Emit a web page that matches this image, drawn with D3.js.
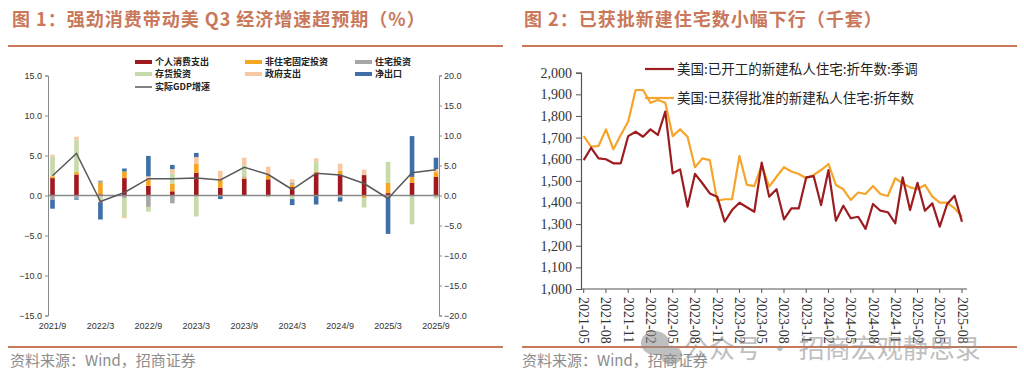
<!DOCTYPE html>
<html lang="zh">
<head>
<meta charset="UTF-8">
<title>美国GDP贡献与新建住宅</title>
<script src="https://cdnjs.cloudflare.com/ajax/libs/d3/7.8.5/d3.min.js"></script>
<style>
    body { margin: 0; background: #fff; }
    svg { display: block; font-family: "Noto Sans CJK SC", sans-serif; }
    .title { fill: #c9785a; font-size: 18px; font-weight: bold; letter-spacing: 1px; }
    .source { fill: #8c8c8c; font-size: 15px; font-family: "Noto Sans CJK SC", serif; }
    .ltick { font-family: Arial, "Liberation Sans", sans-serif; font-size: 9px; fill: #333; }
    .rtick { font-family: "Liberation Serif", serif; font-size: 14px; fill: #333; }
</style>
</head>
<body>
<svg width="1024" height="386"></svg>
<script>
// ---- 图1 数据：对实际GDP环比折年率的拉动（百分点）
const quarters = ["2021/9","2021/12","2022/3","2022/6","2022/9","2022/12","2023/3","2023/6","2023/9",
    "2023/12","2024/3","2024/6","2024/9","2024/12","2025/3","2025/6","2025/9"];
const seriesNames = ["个人消费支出","非住宅固定投资","住宅投资","存货投资","政府支出","净出口"];
const pce     = [2.9, 3.5, 0.2, 2.9, 1.6, 0.7, 3.8, 1.3, 2.8, 2.7, 1.4, 3.7, 3.5, 3.4, 0.4, 2.1, 3.1];
const nonres  = [0.3, 0.4, 1.9, 1.1, 1.0, 1.3, 1.5, 1.3, 0.2, 0.7, 0.4, 0.3, 0.6, -0.4, 1.7, 1.0, 0.8];
const resid   = [-0.7, -0.5, 0.4, -0.4, -1.9, -1.3, -0.2, -0.1, 0.2, 0.1, 0.3, -0.1, -0.2, 0.1, -0.1, -0.2, -0.2];
const invent  = [3.3, 5.4, -0.8, -3.2, -0.8, 1.6, -3.3, 0.0, 1.8, -0.3, -0.6, 1.6, -0.1, -1.6, 3.5, -4.6, -0.3];
const govt    = [0.3, 0.5, -0.3, -0.2, 0.6, 0.8, 1.1, 1.5, 1.3, 1.3, 0.6, 0.6, 1.2, 0.8, -0.1, 0.0, 0.5];
const netex   = [-1.5, -0.2, -2.9, 0.5, 3.4, 0.7, 0.7, -0.5, 0.0, 0.0, -1.0, -1.4, -0.7, 0.0, -6.2, 6.8, 1.9];
const gdp     = [3.3, 7.0, -1.0, 0.5, 2.8, 2.8, 2.9, 2.6, 4.7, 3.5, 1.0, 3.7, 3.4, 2.0, -0.5, 3.8, 4.3];
const leftTicks = [-15, -10, -5, 0, 5, 10, 15];
const rightTicks = [-20, -15, -10, -5, 0, 5, 10, 15, 20];

// ---- 图2 数据：千套，折年数
const months = ["2021-05","2021-06","2021-07","2021-08","2021-09","2021-10","2021-11","2021-12",
    "2022-01","2022-02","2022-03","2022-04","2022-05","2022-06","2022-07","2022-08","2022-09","2022-10","2022-11","2022-12",
    "2023-01","2023-02","2023-03","2023-04","2023-05","2023-06","2023-07","2023-08","2023-09","2023-10","2023-11","2023-12",
    "2024-01","2024-02","2024-03","2024-04","2024-05","2024-06","2024-07","2024-08","2024-09","2024-10","2024-11","2024-12",
    "2025-01","2025-02","2025-03","2025-04","2025-05","2025-06","2025-07","2025-08"];
const starts  = [1596, 1653, 1604, 1600, 1581, 1581, 1707, 1727, 1704, 1738, 1712, 1820, 1535, 1553, 1381, 1532,
    1489, 1442, 1427, 1311, 1365, 1399, 1378, 1357, 1584, 1427, 1461, 1322, 1373, 1373, 1516, 1522,
    1388, 1550, 1316, 1385, 1327, 1334, 1278, 1393, 1362, 1355, 1304, 1516, 1365, 1491, 1362, 1396,
    1288, 1393, 1431, 1311];
const permits = [1707, 1658, 1661, 1738, 1646, 1712, 1774, 1920, 1920, 1861, 1874, 1861, 1707, 1738, 1704, 1563,
    1604, 1596, 1408, 1415, 1415, 1615, 1481, 1476, 1573, 1473, 1519, 1563, 1543, 1532, 1512, 1527,
    1550, 1578, 1481, 1461, 1412, 1446, 1439, 1476, 1439, 1430, 1512, 1489, 1470, 1461, 1481, 1427,
    1399, 1399, 1373, 1334];
const housingNames = ["美国:已开工的新建私人住宅:折年数:季调", "美国:已获得批准的新建私人住宅:折年数"];

const svg = d3.select("svg");

// ================= 图1 =================
const colors = ["#a0191f", "#f5a623", "#a6a6a6", "#c7daa9", "#f7c8a2", "#3f6fa6"];
const rows = quarters.map((q, i) => ({
    q: q, "个人消费支出": pce[i], "非住宅固定投资": nonres[i], "住宅投资": resid[i],
    "存货投资": invent[i], "政府支出": govt[i], "净出口": netex[i]
}));

svg.append("text").attr("class", "title").attr("x", 12).attr("y", 26)
    .text("图 1：强劲消费带动美 Q3 经济增速超预期（%）");
svg.append("line").attr("x1", 8).attr("x2", 503).attr("y1", 46).attr("y2", 46)
    .attr("stroke", "#c9785a").attr("stroke-width", 2);

const x1 = d3.scalePoint().domain(quarters).range([52.5, 436]);
const yL = d3.scaleLinear().domain([-15, 15]).range([315.5, 75.5]);
const yR = d3.scaleLinear().domain([-20, 20]).range([315.5, 75.5]);

const g1 = svg.append("g");

// left axis
const axL = g1.append("g").attr("transform", "translate(48,0)")
    .call(d3.axisLeft(yL).tickValues(leftTicks).tickFormat(d3.format(".1f")).tickSize(3));
axL.select(".domain").attr("stroke", "#8a8a8a");
axL.selectAll(".tick line").attr("stroke", "#8a8a8a");
axL.selectAll("text").attr("class", "ltick").attr("x", -6);

// right axis
const axR = g1.append("g").attr("transform", "translate(439,0)")
    .call(d3.axisRight(yR).tickValues(rightTicks).tickFormat(d3.format(".1f")).tickSize(3));
axR.select(".domain").attr("stroke", "#8a8a8a");
axR.selectAll(".tick line").attr("stroke", "#8a8a8a");
axR.selectAll("text").attr("class", "ltick").attr("x", 5);

// stacked bars
const stack = d3.stack().keys(seriesNames).offset(d3.stackOffsetDiverging);
const layers = stack(rows);
g1.append("g").selectAll("g").data(layers).join("g")
    .attr("fill", (d, i) => colors[i])
    .selectAll("rect").data(d => d).join("rect")
    .attr("x", d => x1(d.data.q) - 2.3)
    .attr("width", 4.6)
    .attr("y", d => yR(Math.max(d[0], d[1])))
    .attr("height", d => Math.abs(yR(d[0]) - yR(d[1])));

// zero line
g1.append("line").attr("x1", 48).attr("x2", 439).attr("y1", yR(0)).attr("y2", yR(0))
    .attr("stroke", "#8a8a8a").attr("stroke-width", 1.5);

// GDP line
g1.append("path").datum(gdp)
    .attr("fill", "none").attr("stroke", "#595959").attr("stroke-width", 1.5)
    .attr("d", d3.line().x((d, i) => x1(quarters[i])).y(d => yR(d)));

// x labels (low position)
g1.append("g").selectAll("text").data(quarters.filter((q, i) => i % 2 === 0)).join("text")
    .attr("class", "ltick")
    .attr("x", d => x1(d)).attr("y", 329)
    .attr("text-anchor", "middle")
    .text(d => d);

// legend
const legItems = seriesNames.map((n, i) => ({ name: n, color: colors[i],
    x: [135, 245, 355][i % 3], y: [62, 74][Math.floor(i / 3)] }));
const leg1 = g1.append("g");
leg1.selectAll("rect").data(legItems).join("rect")
    .attr("x", d => d.x).attr("y", d => d.y - 2).attr("width", 17).attr("height", 4)
    .attr("fill", d => d.color);
leg1.selectAll("text").data(legItems).join("text")
    .attr("x", d => d.x + 20).attr("y", d => d.y).attr("dy", "0.35em")
    .attr("font-size", 9).attr("font-weight", "bold").attr("fill", "#222")
    .text(d => d.name);
leg1.append("line").attr("x1", 135).attr("x2", 152).attr("y1", 87).attr("y2", 87)
    .attr("stroke", "#595959").attr("stroke-width", 1.5);
leg1.append("text").attr("x", 155).attr("y", 87).attr("dy", "0.35em")
    .attr("font-size", 9).attr("font-weight", "bold").attr("fill", "#222").text("实际GDP增速");

svg.append("line").attr("x1", 8).attr("x2", 503).attr("y1", 347).attr("y2", 347)
    .attr("stroke", "#c9785a").attr("stroke-width", 2);
svg.append("text").attr("class", "source").attr("x", 10).attr("y", 366).text("资料来源：Wind，招商证券");

// ================= 图2 =================
svg.append("text").attr("class", "title").attr("x", 524).attr("y", 26)
    .text("图 2：已获批新建住宅数小幅下行（千套）");
svg.append("line").attr("x1", 522).attr("x2", 1017).attr("y1", 46).attr("y2", 46)
    .attr("stroke", "#c9785a").attr("stroke-width", 2);

const x2 = d3.scalePoint().domain(months).range([583.7, 962]);
const yH = d3.scaleLinear().domain([1000, 2000]).range([289, 72.7]);
const g2 = svg.append("g");

const axY = g2.append("g").attr("transform", "translate(581,0)")
    .call(d3.axisLeft(yH).ticks(10).tickFormat(d3.format(",")).tickSize(5));
axY.select(".domain").attr("stroke", "#555").attr("stroke-width", 1.2);
axY.selectAll(".tick line").attr("stroke", "#555");
axY.selectAll("text").attr("class", "rtick").attr("x", -9);

const axX = g2.append("g").attr("transform", "translate(0,289)");
axX.append("line").attr("x1", 581).attr("x2", 967).attr("stroke", "#555").attr("stroke-width", 1.2);
const xTicks = months.filter((m, i) => i % 3 === 0);
axX.selectAll("line.t").data(xTicks).join("line").attr("class", "t")
    .attr("x1", d => x2(d)).attr("x2", d => x2(d)).attr("y1", 0).attr("y2", 4)
    .attr("stroke", "#555");
axX.selectAll("text").data(xTicks).join("text")
    .attr("class", "rtick")
    .attr("transform", d => `translate(${x2(d)},8) rotate(90)`)
    .attr("dy", "0.32em")
    .text(d => d);

const lineColors = ["#9c1c20", "#f5a52a"];
[permits, starts].forEach((s, k) => {
    g2.append("path").datum(s)
        .attr("fill", "none").attr("stroke", lineColors[1 - k]).attr("stroke-width", 2.2)
        .attr("stroke-linejoin", "round")
        .attr("d", d3.line().x((d, i) => x2(months[i])).y(d => yH(d)));
});

housingNames.forEach((n, i) => {
    const y = [69, 98][i];
    g2.append("line").attr("x1", 645).attr("x2", 674).attr("y1", y).attr("y2", y)
        .attr("stroke", lineColors[i]).attr("stroke-width", 2.2);
    g2.append("text").attr("x", 677).attr("y", y).attr("dy", "0.35em")
        .attr("font-size", 13.5).attr("fill", "#222").text(n);
});

svg.append("line").attr("x1", 522).attr("x2", 1017).attr("y1", 347).attr("y2", 347)
    .attr("stroke", "#c9785a").attr("stroke-width", 2);
svg.append("text").attr("class", "source").attr("x", 522).attr("y", 366).text("资料来源：Wind，招商证券");

// watermark
const wm = svg.append("g").attr("opacity", 0.55);
wm.append("ellipse").attr("cx", 655).attr("cy", 343).attr("rx", 14).attr("ry", 12).attr("fill", "#8c8c8c");
wm.append("ellipse").attr("cx", 671).attr("cy", 355).attr("rx", 11).attr("ry", 9.5).attr("fill", "#8c8c8c");
wm.append("text").attr("x", 683).attr("y", 358).attr("font-size", 26).attr("fill", "#8c8c8c")
    .text("公众号 · 招商宏观静思录");
</script>
</body>
</html>
